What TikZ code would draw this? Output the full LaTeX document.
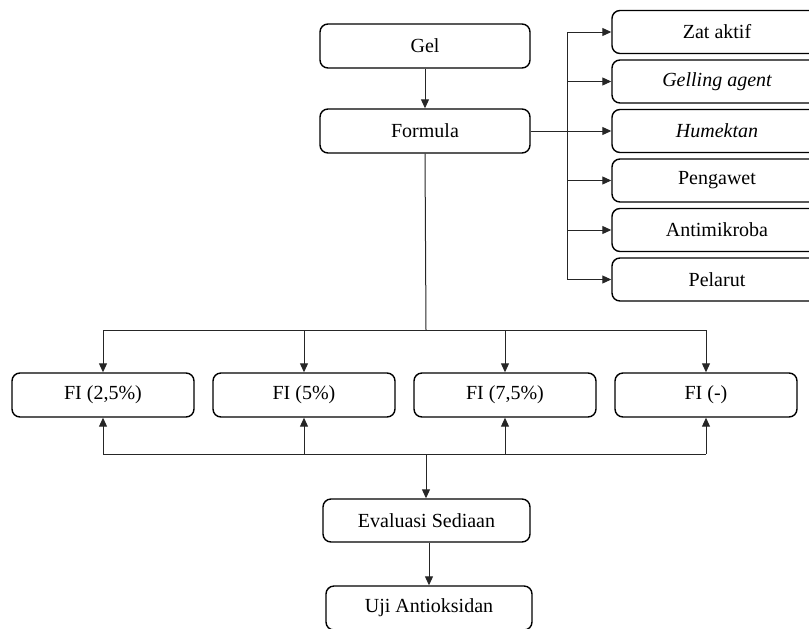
\documentclass[tikz,border=0pt]{standalone}
\usepackage{fontspec}
\setmainfont{Liberation Serif}
\usetikzlibrary{positioning,arrows.meta}

\begin{document}
\begin{tikzpicture}[
  x=0.5pt, y=-0.5pt,
  font=\fontsize{10pt}{12pt}\selectfont,
  >={Triangle[length=4.5pt,width=4pt]},
  box/.style={draw, rounded corners=4pt, align=center, line width=0.7pt, inner sep=2pt, minimum height=22pt},
  mainbox/.style={box, minimum width=105pt},
  inbox/.style={box, minimum width=105pt, minimum height=21.5pt},
  fibox/.style={box, minimum width=91pt},
  arr/.style={->, line width=0.5pt, black!85},
  bus/.style={line width=0.5pt, black!85},
]
\clip (0,0) rectangle (809,628);

% ============ MAIN COLUMN (top) ============
\node[mainbox] (gel) at (425,46) {Gel};
\node[mainbox] (formula) at (425,131) {Formula};
\draw[arr] (gel) -- (formula);

% ============ INGREDIENTS (right) ============
\node[inbox] (zat) at (717,32) {Zat aktif};
\node[inbox, below=2.55pt of zat]       (gelling)  {\itshape Gelling agent};
\node[inbox, below=2.55pt of gelling]   (humektan) {\itshape Humektan};
\node[inbox, below=2.55pt of humektan]  (pengawet) {Pengawet};
\node[inbox, below=2.55pt of pengawet]  (antimikroba) {Antimikroba};
\node[inbox, below=2.55pt of antimikroba] (pelarut) {Pelarut};
\coordinate (rbus) at (567,0);
\draw[bus] (rbus |- zat) -- (rbus |- pelarut);
\draw[arr] (formula.east) -- (formula.east -| humektan.west);
\foreach \n in {zat,gelling,pengawet,antimikroba,pelarut}
  \draw[arr] (rbus |- \n) -- (\n.west);

% ============ FORMULAS ============
\node[fibox] (fi1) at (103,395) {FI (2,5\%)};
\node[fibox, right=8.8pt of fi1] (fi2) {FI (5\%)};
\node[fibox, right=8.8pt of fi2] (fi3) {FI (7,5\%)};
\node[fibox, right=8.8pt of fi3] (fi4) {FI (-)};

% split from Formula down to the four formulas
\coordinate (split) at (426,330);
\draw[bus] (formula.south) -- (split);
\draw[bus] (fi1.north |- split) -- (fi4.north |- split);
\foreach \n in {fi1,fi2,fi3,fi4}
  \draw[arr] (\n.north |- split) -- (\n.north);

% ============ EVALUATION (bottom) ============
\node[mainbox, minimum height=21.5pt, minimum width=103.5pt] (evaluasi) at (426.5,520.5) {Evaluasi Sediaan};
\node[mainbox, minimum width=103pt] (uji) at (429,608) {Uji Antioksidan};

\coordinate (join) at (426,454);
\draw[bus] (fi1.south |- join) -- (fi4.south |- join);
\foreach \n in {fi1,fi2,fi3,fi4}
  \draw[arr] (\n.south |- join) -- (\n.south);
\draw[arr] (join) -- (join |- evaluasi.north);
\draw[arr] (evaluasi.south -| uji) -- (uji.north);

\end{tikzpicture}
\end{document}
